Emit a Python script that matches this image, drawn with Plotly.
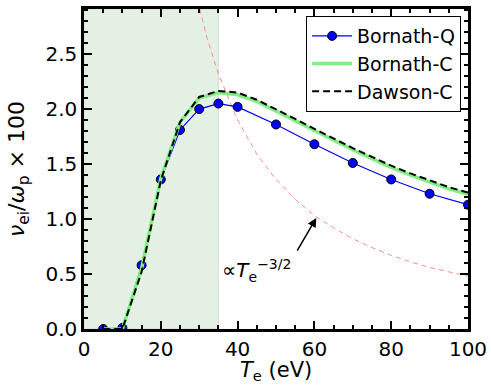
import plotly.graph_objects as go

# Bornath-Q (quantum) points
T_q = [5, 10, 15, 20, 25, 30, 35, 40, 50, 60, 70, 80, 90, 100]
nu_q = [0.0, 0.01, 0.58, 1.36, 1.81, 2.00, 2.05, 2.02, 1.86, 1.68, 1.51, 1.36, 1.23, 1.13]

# Classical curves
T_c = [5, 10, 15, 20, 25, 30, 35, 40, 45, 50, 55, 60, 65, 70, 75, 80, 85, 90, 95, 100]
nu_bc = [0.0, 0.0, 0.55, 1.37, 1.88, 2.10, 2.15, 2.13, 2.07, 1.985, 1.895, 1.805, 1.715,
         1.63, 1.55, 1.47, 1.40, 1.335, 1.275, 1.225]
nu_dc = [0.0, 0.0, 0.52, 1.35, 1.88, 2.11, 2.165, 2.15, 2.085, 2.00, 1.91, 1.82, 1.73,
         1.645, 1.565, 1.485, 1.415, 1.35, 1.29, 1.24]

# T^-3/2 guide curve
T_r = [29, 30, 32, 35, 40, 45, 50, 55, 60, 65, 70, 75, 80, 85, 90, 95, 100]
nu_r = [3.07, 2.92, 2.65, 2.32, 1.90, 1.59, 1.36, 1.18, 1.03, 0.92, 0.82, 0.74,
        0.67, 0.61, 0.56, 0.52, 0.48]

X_RANGE = [0, 100]
Y_RANGE = [0, 2.91]
X_TICKS = [0, 20, 40, 60, 80, 100]
Y_TICKS = [0, 0.5, 1.0, 1.5, 2.0, 2.5]
Y_TICKTEXT = ["0.0", "0.5", "1.0", "1.5", "2.0", "2.5"]

FONT = "DejaVu Sans"

fig = go.Figure()

fig.add_shape(type="rect", xref="x", yref="paper", x0=0, x1=35, y0=0, y1=1,
              fillcolor="#e5f0e5", line=dict(color="#d8dcd8", width=1), layer="below")

fig.add_trace(go.Scatter(x=T_r, y=nu_r, mode="lines", showlegend=False,
                         line=dict(color="#ff8c8c", width=1, dash="5px,4px")))
fig.add_trace(go.Scatter(x=T_q, y=nu_q, mode="lines+markers", name="Bornath-Q",
                         line=dict(color="#0000ff", width=1.2),
                         marker=dict(color="#0000ff", size=9,
                                     line=dict(color="black", width=1))))
fig.add_trace(go.Scatter(x=T_c, y=nu_bc, mode="lines", name="Bornath-C",
                         line=dict(color="#80f080", width=3.5)))
fig.add_trace(go.Scatter(x=T_c, y=nu_dc, mode="lines", name="Dawson-C",
                         line=dict(color="black", width=2, dash="7px,4px")))
# invisible trace to activate the mirrored axes (for minor ticks on top/right)
fig.add_trace(go.Scatter(x=[X_RANGE[0]], y=[Y_RANGE[0]], xaxis="x2", yaxis="y2",
                         mode="markers", marker=dict(opacity=0), showlegend=False,
                         hoverinfo="skip"))

fig.add_annotation(x=60.5, y=1.01, ax=55.3, ay=0.70, xref="x", yref="y",
                   axref="x", ayref="y", text="", showarrow=True,
                   arrowhead=2, arrowsize=1.2, arrowwidth=1.5, arrowcolor="black",
                   standoff=0, startstandoff=0)
fig.add_annotation(x=35.5, y=0.53, xref="x", yref="y", xanchor="left", yanchor="middle",
                   text="∝<i>T</i><sub>e</sub><sup>−3/2</sup>", showarrow=False,
                   font=dict(family=FONT, size=20, color="black"))
# x-axis title as an annotation, just below the tick labels
fig.add_annotation(x=0.5, y=0, xref="paper", yref="paper", xanchor="center", yanchor="top",
                   yshift=-27, text="<i>T</i><sub>e</sub> (eV)", showarrow=False,
                   font=dict(family=FONT, size=21, color="black"))

axis_common = dict(showline=True, linecolor="black", linewidth=2.5,
                   ticks="inside", ticklen=8, tickwidth=2, tickcolor="black",
                   showgrid=False, zeroline=False, automargin=False,
                   tickfont=dict(family=FONT, size=20, color="black"))

x_minor = dict(ticks="inside", dtick=5, ticklen=4, tickwidth=1.5,
               tickcolor="black", showgrid=False)
y_minor = dict(ticks="inside", dtick=0.1, ticklen=4, tickwidth=1.5,
               tickcolor="black", showgrid=False)

fig.update_layout(
    xaxis=dict(range=X_RANGE, tickvals=X_TICKS, minor=x_minor, **axis_common),
    yaxis=dict(range=Y_RANGE, tickvals=Y_TICKS, ticktext=Y_TICKTEXT, minor=y_minor,
               title=dict(text="<i>ν</i><sub>ei</sub>/<i>ω</i><sub>p</sub> × 100",
                          font=dict(family=FONT, size=22, color="black")),
               **axis_common),
    xaxis2=dict(range=X_RANGE, tickvals=X_TICKS, minor=x_minor, overlaying="x",
                side="top", anchor="y2", showticklabels=False, **axis_common),
    yaxis2=dict(range=Y_RANGE, tickvals=Y_TICKS, minor=y_minor, overlaying="y",
                side="right", anchor="x2", showticklabels=False, **axis_common),
    width=491, height=386,
    margin=dict(l=84, r=23, t=9, b=57),
    plot_bgcolor="white", paper_bgcolor="white",
    font=dict(family=FONT, color="black"),
    legend=dict(x=0.982, y=0.978, xanchor="right", yanchor="top",
                bgcolor="white", bordercolor="black", borderwidth=1,
                font=dict(family=FONT, size=19, color="black"),
                tracegroupgap=0, itemwidth=40),
)

fig.write_html("out.html", config={"displayModeBar": False},
               post_script="document.body.style.margin='0';document.body.style.overflow='hidden';")
